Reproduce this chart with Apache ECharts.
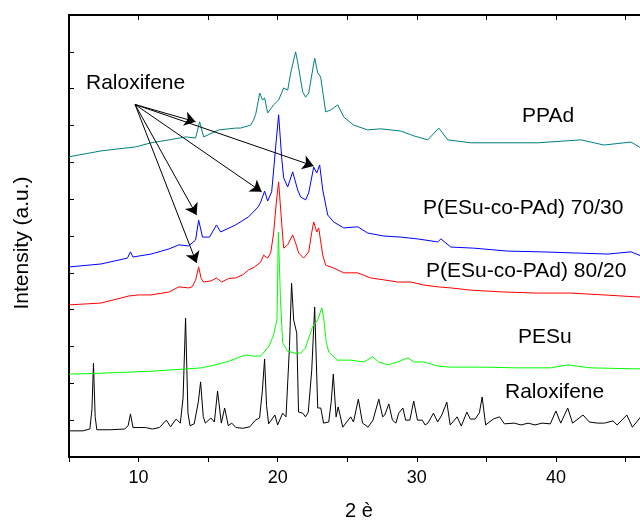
<!DOCTYPE html>
<html>
<head>
<meta charset="utf-8">
<script src="https://cdn.jsdelivr.net/npm/echarts@6/dist/echarts.min.js"></script>
<style>
    html, body { margin: 0; padding: 0; background: #fff; }
    #xrd { width: 640px; height: 520px; }
</style>
</head>
<body>
<div id="xrd"></div>
<script>
// 2 theta / intensity pairs (stacked patterns, offset included)
const raloxifene = [[5.0,0.71],[6.0,0.71],[6.5,0.76],[6.65,1.3],[6.76,2.55],[6.88,1.1],[7.0,0.74],[8.0,0.74],[9.0,0.76],[9.25,0.85],[9.42,1.17],[9.6,0.80],[10.5,0.80],[11.0,0.76],[11.5,0.80],[12.0,1.00],[12.3,0.82],[12.7,1.03],[13.0,0.92],[13.2,1.6],[13.38,3.77],[13.55,1.2],[13.7,0.85],[14.0,0.90],[14.3,1.5],[14.46,2.04],[14.65,1.1],[14.8,0.92],[15.2,1.06],[15.45,0.95],[15.68,1.79],[15.95,0.92],[16.19,1.33],[16.45,0.85],[16.7,0.92],[17.0,0.80],[17.5,0.78],[18.0,0.82],[18.4,1.00],[18.7,1.06],[18.9,1.8],[19.06,2.66],[19.2,1.4],[19.35,0.90],[19.8,1.14],[20.0,0.87],[20.36,1.19],[20.6,1.09],[20.85,3.0],[21.0,4.72],[21.15,3.72],[21.37,3.37],[21.5,1.22],[21.8,1.19],[22.0,1.09],[22.2,1.22],[22.45,2.36],[22.66,4.07],[22.88,1.33],[23.1,1.33],[23.3,0.92],[23.67,0.95],[23.85,1.5],[24.0,2.25],[24.2,1.09],[24.35,1.36],[24.68,0.81],[25.25,1.09],[25.45,0.95],[25.8,1.57],[26.1,0.92],[26.5,0.81],[26.85,1.00],[27.27,1.57],[27.55,1.09],[27.7,1.14],[27.99,1.44],[28.25,1.00],[28.5,0.92],[28.7,1.19],[29.0,1.33],[29.2,1.00],[29.5,1.00],[29.78,1.52],[30.05,1.00],[30.4,1.00],[30.6,0.87],[30.8,0.92],[31.2,1.19],[31.5,0.95],[31.8,1.14],[32.16,1.49],[32.4,0.87],[32.9,1.09],[33.2,0.84],[33.6,1.22],[33.85,1.03],[34.2,1.03],[34.5,1.2],[34.7,1.63],[34.95,0.87],[35.5,1.03],[35.95,1.09],[36.3,0.90],[37.0,0.92],[37.5,0.87],[38.0,0.92],[38.5,0.87],[39.0,0.92],[39.6,0.90],[40.0,1.25],[40.35,0.92],[40.85,1.33],[41.2,0.92],[41.95,1.14],[42.4,0.95],[43.0,0.92],[43.5,0.92],[44.1,0.98],[44.4,0.87],[45.1,1.14],[45.5,0.81],[46.1,1.09],[46.6,0.90]];

const pesu = [[5.0,2.25],[7.0,2.27],[9.0,2.30],[11.0,2.33],[13.0,2.38],[14.5,2.42],[15.5,2.50],[16.5,2.60],[17.3,2.72],[17.7,2.77],[18.2,2.74],[18.78,2.74],[19.35,2.99],[19.7,3.3],[19.95,3.72],[20.05,6.11],[20.2,4.3],[20.36,3.10],[20.7,2.88],[21.2,2.82],[21.65,2.82],[22.0,2.96],[22.5,3.53],[22.88,3.72],[23.17,4.05],[23.3,3.80],[23.5,3.1],[23.67,2.85],[24.3,2.63],[25.25,2.63],[26.2,2.58],[26.83,2.72],[27.27,2.58],[27.9,2.50],[28.6,2.58],[29.35,2.69],[29.8,2.58],[30.5,2.58],[31.5,2.47],[32.4,2.44],[34.8,2.44],[37.2,2.42],[39.6,2.42],[40.9,2.50],[42.5,2.42],[46.1,2.39]];

const co8020 = [[5.0,4.13],[7.3,4.18],[9.3,4.37],[10.0,4.40],[10.9,4.40],[12.2,4.48],[12.9,4.62],[13.6,4.59],[13.85,4.62],[14.1,4.8],[14.32,5.16],[14.5,4.85],[14.68,4.75],[15.2,4.78],[15.61,4.86],[15.97,4.75],[16.5,4.85],[16.98,4.86],[17.5,4.95],[17.91,5.08],[18.3,5.15],[18.78,5.29],[18.99,5.48],[19.28,5.40],[19.5,5.54],[19.71,6.08],[19.9,6.9],[20.07,7.47],[20.29,6.35],[20.43,5.67],[20.72,5.76],[21.08,6.03],[21.29,5.81],[21.51,5.54],[21.87,5.40],[22.23,5.57],[22.45,6.1],[22.59,6.38],[22.81,6.11],[22.95,6.22],[23.24,5.48],[23.45,5.21],[24.03,5.13],[24.75,5.00],[25.76,5.00],[26.69,4.86],[27.63,4.81],[28.63,4.75],[29.57,4.75],[30.5,4.67],[31.51,4.62],[32.45,4.59],[33.88,4.53],[36.26,4.48],[38.71,4.45],[41.08,4.45],[43.45,4.40],[46.12,4.34]];

const co7030 = [[5.0,5.16],[7.3,5.24],[9.2,5.40],[9.42,5.57],[9.6,5.43],[10.9,5.51],[12.2,5.65],[12.9,5.76],[13.6,5.73],[14.1,5.89],[14.32,6.43],[14.6,5.97],[15.1,5.97],[15.6,6.30],[15.9,6.11],[16.98,6.30],[17.91,6.52],[18.6,6.79],[18.78,6.92],[19.06,7.22],[19.28,6.95],[19.57,7.20],[19.71,7.79],[19.9,8.6],[20.07,9.29],[20.29,8.12],[20.43,7.58],[20.72,7.33],[21.08,7.74],[21.44,7.25],[21.65,7.06],[22.01,6.98],[22.23,7.17],[22.59,7.87],[22.81,7.71],[23.02,7.93],[23.24,7.25],[23.6,6.57],[24.03,6.38],[24.75,6.22],[25.76,6.25],[26.47,6.08],[27.63,6.00],[28.85,5.97],[30.07,5.92],[31.51,5.84],[31.73,5.92],[32.45,5.70],[34.1,5.67],[36.55,5.59],[38.92,5.57],[41.29,5.54],[43.74,5.51],[45.4,5.57],[46.12,5.46]];

const ppad = [[5.0,8.15],[7.3,8.31],[9.8,8.42],[10.9,8.53],[12.2,8.61],[13.4,8.69],[14.1,8.66],[14.39,9.10],[14.68,8.69],[15.76,8.88],[16.98,8.93],[17.34,8.93],[18.06,9.01],[18.27,9.15],[18.42,9.3],[18.71,9.88],[18.92,9.69],[19.06,9.75],[19.28,9.34],[19.71,9.56],[20.07,9.69],[20.43,10.02],[20.72,9.96],[20.94,10.43],[21.29,11.00],[21.44,10.72],[21.8,9.91],[22.01,9.77],[22.23,9.88],[22.66,10.83],[22.88,10.43],[23.09,10.32],[23.45,9.37],[23.81,9.42],[24.32,9.56],[24.75,9.23],[25.47,9.01],[26.47,8.88],[27.41,8.91],[28.85,8.85],[29.78,8.72],[30.79,8.61],[31.58,8.93],[32.23,8.61],[33.88,8.53],[36.26,8.53],[38.71,8.53],[41.8,8.61],[43.45,8.47],[45.4,8.55],[46.12,8.39]];

// arrows from the "Raloxifene" note to the drug peaks in the blends
const arrowFrom = [9.75, 9.57];
const arrowTo = [[14.1, 9.10], [22.59, 7.90], [18.85, 7.20], [14.17, 6.57], [14.17, 5.27]];

// curve labels
const labelText = ['PPAd', 'P(ESu-co-PAd) 70/30', 'P(ESu-co-PAd) 80/20', 'PESu', 'Raloxifene'];
const labelPos = [[522, 116.5], [423, 208.5], [426, 271.5], [518, 337.5], [505, 392.5]];

const font = 'Liberation Sans, Arial, sans-serif';

let myChart = echarts.init(document.getElementById('xrd'), null, { renderer: 'canvas' });

function line(name, data, color, extra) {
    return Object.assign({
        name: name,
        type: 'line',
        data: data,
        showSymbol: false,
        silent: true,
        lineStyle: { color: color, width: 1 },
        itemStyle: { color: color },
        emphasis: { disabled: true }
    }, extra || {});
}

let graphics = labelText.map((t, i) => ({
    type: 'text',
    x: labelPos[i][0],
    y: labelPos[i][1],
    style: { text: t, font: '21px ' + font, fill: '#000', verticalAlign: 'middle' }
}));
graphics.push({
    type: 'text', x: 86, y: 83.5,
    style: { text: 'Raloxifene', font: '21px ' + font, fill: '#000', verticalAlign: 'middle' }
});
// axis titles
graphics.push({
    type: 'text', x: 22, y: 243, rotation: Math.PI / 2,
    style: { text: 'Intensity (a.u.)', font: '21px ' + font, fill: '#000', align: 'center', verticalAlign: 'middle' }
});
graphics.push({
    type: 'text', x: 359, y: 511,
    style: { text: '2 è', font: '20px ' + font, fill: '#000', align: 'center', verticalAlign: 'middle' }
});

let axisLine = { lineStyle: { color: '#000', width: 2 } };

let option = {
    animation: false,
    backgroundColor: '#fff',
    // plot box runs past the right edge of the picture (2 theta up to 50)
    grid: { left: 69, width: 626, top: 15, bottom: 63, outerBoundsMode: 'none', containLabel: false },
    xAxis: [
        {
            type: 'value', position: 'bottom', min: 5, max: 50, interval: 5,
            axisLine: axisLine,
            axisTick: { inside: false, length: 5, lineStyle: { color: '#000', width: 1 } },
            axisLabel: {
                color: '#000', fontSize: 18, fontFamily: font, margin: 12,
                formatter: v => (v % 10 === 0 && v < 50 ? String(v) : '')
            },
            splitLine: { show: false }
        },
        {
            type: 'value', position: 'top', min: 5, max: 50, interval: 5,
            axisLine: axisLine,
            axisTick: { inside: true, length: 5, lineStyle: { color: '#000', width: 1 } },
            axisLabel: { show: false },
            splitLine: { show: false }
        }
    ],
    yAxis: {
        type: 'value', min: 0, max: 12, interval: 1,
        axisLine: axisLine,
        axisTick: { inside: true, length: 5, lineStyle: { color: '#000', width: 1 } },
        axisLabel: { show: false },
        splitLine: { show: false }
    },
    series: [
        line('Raloxifene', raloxifene, '#000000', {
            markLine: {
                silent: true,
                symbol: ['none', 'arrow'],
                symbolSize: 11,
                label: { show: false },
                lineStyle: { color: '#000', width: 1, type: 'solid' },
                emphasis: { disabled: true },
                data: arrowTo.map(p => [{ coord: arrowFrom }, { coord: p }])
            }
        }),
        line('PESu', pesu, '#00ff00'),
        line('P(ESu-co-PAd) 80/20', co8020, '#ff0000'),
        line('P(ESu-co-PAd) 70/30', co7030, '#0000ff'),
        line('PPAd', ppad, '#008080')
    ],
    graphic: graphics
};

myChart.setOption(option);
</script>
</body>
</html>
